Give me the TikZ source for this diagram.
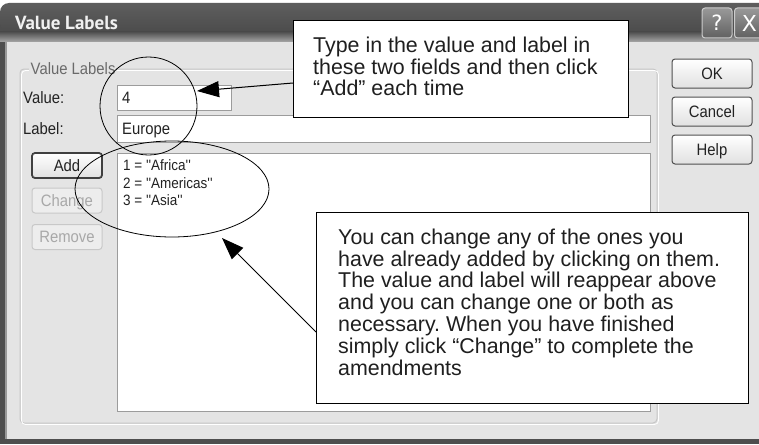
\documentclass[tikz,border=0pt]{standalone}
\usepackage{fontspec}
\setmainfont{Liberation Sans}
\newfontfamily\dlgfont[FakeStretch=0.9, Ligatures=TeXOff]{Liberation Sans}
\newfontfamily\ttlfont{PT Sans}
\newfontfamily\symfont{DejaVu Sans}
\usetikzlibrary{arrows.meta,shapes.geometric}
\definecolor{bodybg}{HTML}{E4E4E4}
\definecolor{framedark}{HTML}{4E4E4E}
\definecolor{tbtop}{HTML}{5E5E5E}
\definecolor{tbmid}{HTML}{4C4C4C}
\definecolor{tbbot}{HTML}{A8A8A8}
\definecolor{groupline}{HTML}{C6C6C6}
\definecolor{fieldline}{HTML}{9C9C9C}
\definecolor{btnline}{HTML}{505050}
\definecolor{disline}{HTML}{C8C8C8}
\definecolor{distext}{HTML}{A8A8A8}
\definecolor{grptext}{HTML}{6A6A6A}
\definecolor{dlgtext}{HTML}{222222}
\begin{document}
\frenchspacing
\begin{tikzpicture}[x=1pt,y=-1pt,
  dlg/.style={font=\dlgfont\fontsize{16.5}{19}\selectfont, text=dlgtext, inner sep=0pt, text height=11.8pt, text depth=0pt},
  lbl/.style={dlg, anchor=west},
  listitem/.style={font=\dlgfont\fontsize{15}{18}\selectfont, text=dlgtext, inner sep=0pt, text height=10.7pt, text depth=0pt, anchor=west},
  btn/.style={dlg, draw=btnline, line width=1pt, rounded corners=3pt, top color=white, bottom color=black!12},
  defbtn/.style={btn, line width=1.8pt, draw=black!75},
  disbtn/.style={dlg, draw=disline, line width=1pt, rounded corners=3pt, fill=black!7, text=distext},
  field/.style={draw=fieldline, fill=white, line width=1pt},
  callout/.style={draw=black, fill=white, line width=1.1pt, inner sep=0pt},
  callouttext/.style={align=left, inner sep=0pt, anchor=west,
    font=\fontsize{21.4}{21.8}\selectfont, text=black!88},
  ring/.style={draw=black, ellipse, line width=0.8pt, inner sep=0pt},
  capbtn/.style={draw=white!80!black, line width=1pt, rounded corners=3pt, top color=black!40, bottom color=black!62, minimum width=30pt, minimum height=30pt, inner sep=0pt, text=white},
  pointer/.style={draw=black, line width=1pt, -{Triangle[length=22pt,width=16pt]}}
]
\useasboundingbox (0,0) rectangle (759,444);
\clip (0,0) rectangle (759,444);
\fill[white] (0,0) rectangle (759,444);
% body
\fill[bodybg] (0,40) rectangle (759,444);
% frame
\fill[framedark] (0,20) rectangle (5,444);
\fill[black!40] (5,42) rectangle (7,440);
\fill[framedark] (0,439) rectangle (759,444);
% title bar
\shade[top color=tbtop, bottom color=tbmid, rounded corners=9pt] (0,32) -- (0,3) -- (780,3) -- (780,32) -- cycle;
\shade[top color=tbmid, bottom color=tbbot] (0,31.5) rectangle (759,42);
\node[font=\ttlfont\bfseries\fontsize{19}{22}\selectfont, text=white!94!black, anchor=base west, inner sep=0pt] (title) at (15,30) {Value Labels};
% caption buttons
\node[capbtn, font=\symfont\fontsize{21}{21}\selectfont] (qbtn) at (717,23) {?};
\node[capbtn, font=\symfont\fontsize{22}{22}\selectfont, anchor=west] (xbtn) at (734,23) {X};
% group box
\draw[groupline, line width=1pt, rounded corners=4pt] (20,69) rectangle (657,423);
\draw[white, line width=0.8pt, rounded corners=4pt] (21.5,70.5) rectangle (658.5,424.5);
\node[lbl, fill=bodybg, text=grptext, inner xsep=1.5pt, inner ysep=2pt] (grp) at (29,69) {Value Labels};
% labels and fields
\node[lbl] (vlab) at (23,98) {Value:};
\node[lbl] (llab) at (23,129) {Label:};
\draw[field] (117,85) rectangle (231,110);
\draw[field] (117,115) rectangle (650,142);
\draw[field] (117,153) rectangle (650,411);
\node[lbl] (vval) at (122,98) {4};
\node[lbl] (lval) at (122,129) {Europe};
\node[listitem] (i1) at (123,165.5) {1 = ''Africa''};
\node[listitem] (i2) at (123,183) {2 = ''Americas''};
\node[listitem] (i3) at (123,200.5) {3 = ''Asia''};
% left buttons
\node[defbtn, minimum width=70pt, minimum height=25pt] (add) at (67,165.5) {Add};
\node[disbtn, minimum width=70pt, minimum height=25pt] (chg) at (67,200.5) {Change};
\node[disbtn, minimum width=70pt, minimum height=25pt] (rem) at (67,237) {Remove};
% right buttons
\node[btn, minimum width=80pt, minimum height=29pt] (ok) at (712,73.5) {OK};
\node[btn, minimum width=80pt, minimum height=29pt] (cancel) at (712,111.5) {Cancel};
\node[btn, minimum width=80pt, minimum height=29pt] (help) at (712,149.5) {Help};
% highlight rings
\node[ring, minimum width=97pt, minimum height=98pt] (e1) at (148.5,106) {};
\node[ring, minimum width=194pt, minimum height=96pt] (e2) at (172,189) {};
% callouts
\node[callout, anchor=north west, minimum width=335pt, minimum height=97pt] (c1) at (293,20) {};
\node[callouttext] (t1) at (313,66.5)
  {Type in the value and label in\\these two fields and then click\\“Add” each time};
\node[callout, anchor=north west, minimum width=432pt, minimum height=191pt] (c2) at (316,212) {};
\node[callouttext] (t2) at (338,302)
  {You can change any of the ones you\\have already added by clicking on them.\\The value and label will reappear above\\and you can change one or both as\\necessary. When you have finished\\simply click “Change” to complete the\\amendments};
% pointers
\coordinate (a1s) at (293,83);
\coordinate (a1e) at (197,91);
\coordinate (a2s) at (316,332);
\coordinate (a2e) at (222,238);
\draw[pointer] (a1s) -- (a1e);
\draw[pointer] (a2s) -- (a2e);
\end{tikzpicture}
\end{document}
